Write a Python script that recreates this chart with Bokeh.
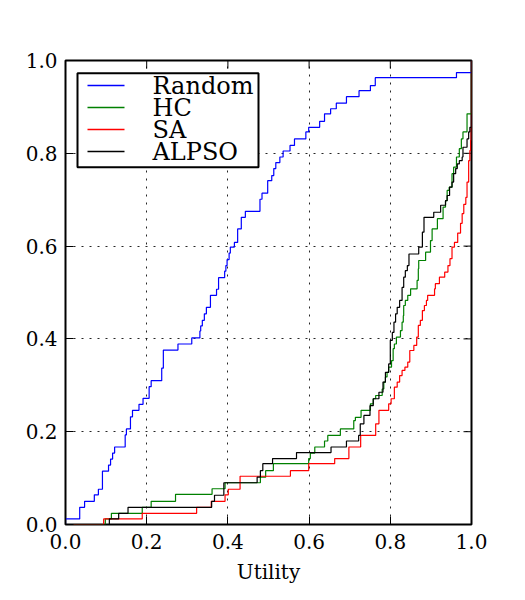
from bokeh.plotting import figure
from bokeh.models import Range1d, FixedTicker, NumeralTickFormatter, BoxAnnotation, Label, Arrow
from bokeh.embed import file_html
from bokeh.resources import INLINE

# Empirical CDFs of the utility reached by each optimiser.
# *_x: sorted utility values where the CDF steps, *_y: CDF level after the step.
random_x = [0.000, 0.035, 0.047, 0.071, 0.081, 0.091, 0.106, 0.111, 0.116, 0.121,
            0.147, 0.150, 0.160, 0.165, 0.181, 0.191, 0.206, 0.211, 0.237, 0.241,
            0.277, 0.311, 0.331, 0.333, 0.337, 0.342, 0.347, 0.357, 0.372, 0.377,
            0.392, 0.395, 0.398, 0.403, 0.406, 0.416, 0.424, 0.433, 0.443, 0.479,
            0.484, 0.498, 0.508, 0.513, 0.518, 0.528, 0.536, 0.553, 0.564, 0.592,
            0.599, 0.626, 0.638, 0.653, 0.667, 0.692, 0.723, 0.751, 0.763, 0.963,
            1.000]
random_y = [0.012, 0.037, 0.050, 0.064, 0.076, 0.115, 0.128, 0.141, 0.154, 0.167,
            0.193, 0.206, 0.232, 0.246, 0.259, 0.272, 0.297, 0.310, 0.337, 0.376,
            0.389, 0.402, 0.417, 0.428, 0.440, 0.454, 0.468, 0.494, 0.507, 0.532,
            0.546, 0.558, 0.571, 0.585, 0.598, 0.608, 0.637, 0.662, 0.675, 0.701,
            0.714, 0.741, 0.752, 0.767, 0.780, 0.792, 0.805, 0.817, 0.831, 0.846,
            0.856, 0.869, 0.885, 0.896, 0.908, 0.922, 0.935, 0.946, 0.963, 0.974,
            1.000]

hc_x = [0.098, 0.113, 0.189, 0.211, 0.271, 0.361, 0.393, 0.480, 0.493, 0.512,
        0.599, 0.603, 0.614, 0.638, 0.646, 0.677, 0.710, 0.714, 0.728, 0.751,
        0.758, 0.764, 0.780, 0.784, 0.788, 0.792, 0.796, 0.803, 0.807, 0.810,
        0.815, 0.825, 0.829, 0.832, 0.833, 0.837, 0.843, 0.850, 0.866, 0.869,
        0.870, 0.887, 0.899, 0.903, 0.916, 0.930, 0.936, 0.940, 0.945, 0.952,
        0.956, 0.963, 0.970, 0.975, 0.979, 0.989, 1.000]
hc_y = [0.012, 0.024, 0.037, 0.050, 0.065, 0.077, 0.090, 0.102, 0.116, 0.131,
        0.142, 0.154, 0.167, 0.180, 0.192, 0.206, 0.224, 0.231, 0.246, 0.260,
        0.271, 0.278, 0.292, 0.307, 0.318, 0.328, 0.339, 0.353, 0.379, 0.389,
        0.404, 0.418, 0.436, 0.450, 0.472, 0.483, 0.494, 0.508, 0.526, 0.551,
        0.569, 0.587, 0.612, 0.637, 0.659, 0.684, 0.698, 0.720, 0.727, 0.756,
        0.770, 0.792, 0.810, 0.831, 0.846, 0.885, 1.000]

sa_x = [0.094, 0.189, 0.323, 0.359, 0.393, 0.401, 0.430, 0.554, 0.599, 0.663,
        0.698, 0.727, 0.764, 0.772, 0.796, 0.802, 0.810, 0.817, 0.823, 0.829,
        0.836, 0.843, 0.848, 0.858, 0.865, 0.869, 0.874, 0.879, 0.884, 0.889,
        0.892, 0.909, 0.911, 0.921, 0.934, 0.942, 0.947, 0.952, 0.958, 0.966,
        0.973, 0.977, 0.981, 0.986, 0.989, 0.993, 0.996, 0.998, 0.999, 1.000]
sa_y = [0.012, 0.024, 0.037, 0.050, 0.064, 0.076, 0.104, 0.116, 0.131, 0.142,
        0.167, 0.192, 0.217, 0.246, 0.260, 0.271, 0.296, 0.307, 0.321, 0.332,
        0.339, 0.350, 0.375, 0.386, 0.404, 0.429, 0.440, 0.461, 0.472, 0.483,
        0.494, 0.508, 0.519, 0.533, 0.544, 0.558, 0.573, 0.598, 0.608, 0.628,
        0.649, 0.670, 0.690, 0.705, 0.738, 0.784, 0.806, 0.828, 0.856, 1.000]

alpso_x = [0.108, 0.131, 0.154, 0.360, 0.367, 0.390, 0.472, 0.480, 0.486, 0.510,
           0.569, 0.654, 0.692, 0.722, 0.726, 0.735, 0.750, 0.758, 0.772, 0.782,
           0.788, 0.796, 0.800, 0.805, 0.809, 0.813, 0.817, 0.823, 0.829, 0.833,
           0.837, 0.842, 0.846, 0.870, 0.879, 0.883, 0.907, 0.924, 0.936, 0.940,
           0.946, 0.952, 0.956, 0.961, 0.965, 0.970, 0.977, 0.979, 0.989, 0.993,
           0.996, 1.000]
alpso_y = [0.012, 0.024, 0.037, 0.050, 0.063, 0.090, 0.102, 0.116, 0.131, 0.142,
           0.155, 0.167, 0.180, 0.192, 0.217, 0.235, 0.256, 0.271, 0.285, 0.307,
           0.328, 0.346, 0.397, 0.414, 0.436, 0.454, 0.468, 0.483, 0.511, 0.533,
           0.547, 0.558, 0.583, 0.598, 0.630, 0.662, 0.673, 0.688, 0.698, 0.709,
           0.727, 0.738, 0.756, 0.767, 0.777, 0.784, 0.792, 0.813, 0.831, 0.846,
           0.856, 1.000]

series_names = ["Random", "HC", "SA", "ALPSO"]
series_colors = ["#0000ff", "#008000", "#ff0000", "#000000"]
series_x = [random_x, hc_x, sa_x, alpso_x]
series_y = [random_y, hc_y, sa_y, alpso_y]

tick_values = [0.0, 0.2, 0.4, 0.6, 0.8, 1.0]
axis_title = "Utility"
FONT = "DejaVu Serif"

FRAME_W, FRAME_H = 406, 464
TICK_LEN = 8

p = figure(width=525, height=600,
           x_range=Range1d(0, 1), y_range=Range1d(0, 1),
           output_backend="svg", toolbar_location=None,
           min_border_left=65, min_border_right=525 - 65 - FRAME_W,
           min_border_top=60, min_border_bottom=600 - 60 - FRAME_H)
p.background_fill_color = "white"
p.border_fill_color = "white"
p.outline_line_color = "black"
p.outline_line_width = 2

# dotted grid
for g in (p.xgrid, p.ygrid):
    g.ticker = FixedTicker(ticks=tick_values)
    g.grid_line_color = "black"
    g.grid_line_alpha = 0.85
    g.grid_line_width = 1
    g.grid_line_dash = "2 6"

for ax in (p.xaxis[0], p.yaxis[0]):
    ax.ticker = FixedTicker(ticks=tick_values)
    ax.formatter = NumeralTickFormatter(format="0.0")
    ax.axis_line_color = None
    ax.major_tick_in = TICK_LEN
    ax.major_tick_out = 0
    ax.major_tick_line_color = "black"
    ax.major_tick_line_width = 1
    ax.minor_tick_line_color = None
    ax.major_label_text_font = FONT
    ax.major_label_text_font_size = "20px"
    ax.major_label_text_color = "black"

p.xaxis[0].major_label_standoff = 9
p.yaxis[0].major_label_standoff = 8
p.xaxis[0].axis_label = axis_title
p.xaxis[0].axis_label_text_font = FONT
p.xaxis[0].axis_label_text_font_size = "20px"
p.xaxis[0].axis_label_text_font_style = "normal"
p.xaxis[0].axis_label_text_color = "black"
p.xaxis[0].axis_label_standoff = 8

# inward ticks along the top and right edges of the frame
dy = TICK_LEN / FRAME_H
dx = TICK_LEN / FRAME_W
p.segment(x0=tick_values, y0=[1.0] * len(tick_values),
          x1=tick_values, y1=[1.0 - dy] * len(tick_values),
          line_color="black", line_width=1)
p.segment(x0=[1.0] * len(tick_values), y0=tick_values,
          x1=[1.0 - dx] * len(tick_values), y1=tick_values,
          line_color="black", line_width=1)

# ECDF step curves, starting from zero
for xs, ys, color in zip(series_x, series_y, series_colors):
    p.step([0.0] + xs, [0.0] + ys, mode="after", line_color=color, line_width=1.2)

# legend box (screen units, measured from the frame's lower-left corner)
p.add_layout(BoxAnnotation(left=12, right=193, top=451.3, bottom=357.3,
                           left_units="screen", right_units="screen",
                           top_units="screen", bottom_units="screen",
                           fill_color="white", fill_alpha=1.0,
                           line_color="black", line_alpha=1.0, line_width=2))
row_gap = 22
for i, (name, color) in enumerate(zip(series_names, series_colors)):
    y_line = 439 - i * row_gap
    p.add_layout(Arrow(end=None, x_start=22, y_start=y_line, x_end=59, y_end=y_line,
                       start_units="screen", end_units="screen",
                       line_color=color, line_width=1.5))
    p.add_layout(Label(x=87, y=y_line - 0.5, x_units="screen", y_units="screen",
                       text=name, text_font=FONT, text_font_size="24px",
                       text_color="black", text_baseline="alphabetic"))

open("out.html", "w").write(file_html(p, INLINE))
